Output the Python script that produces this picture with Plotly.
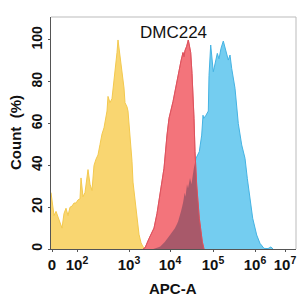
import numpy as np
import plotly.graph_objects as go

# display channel (0-245 on biexponential display) and % of max count
yellow_x = [0, 1, 3, 5, 7, 9, 11, 13, 15, 17, 19, 21, 23, 25, 27, 29, 30, 32, 34, 37, 39, 41, 43, 45, 47, 49,
            51, 53, 55, 56, 57, 59, 61, 63, 64, 66, 67, 69, 71, 73, 74, 76, 77, 79, 81, 82, 84, 86, 88, 90,
            92, 94, 97, 100, 103]
yellow_y = [27, 23, 16, 18, 15, 12, 10, 17, 19.5, 16, 20, 20.5, 22, 22, 23.5, 24, 34, 25, 27, 38, 31, 28, 40, 43,
            45, 50, 55, 58, 64, 66, 73, 70, 72, 80, 86, 94, 100, 92, 87, 77, 70, 68, 66, 55, 42, 32, 24, 14, 7,
            3, 1, 0.5, 0.3, 0.6, 0]

red_x = [92, 94, 98, 103, 106, 108, 111, 113, 116, 118, 122, 125, 128, 130, 132, 133, 134, 135.7, 137.3,
         138.5, 139.7, 141, 141.7, 143, 144, 145.7, 148.3, 151.3, 153]
red_y = [0, 0.5, 5, 10, 17, 22.6, 31, 38.6, 54.5, 62.5, 70.5, 78, 86.5, 90, 94, 92, 95, 97, 100,
         96, 94, 84, 78.5, 62.5, 46.6, 30.6, 14.7, 3.5, 0]

blue_x = [102.3, 109, 114, 119, 124, 127, 130, 132, 133.7, 134.5, 136, 137, 139, 140.5, 142, 143, 145,
          148.3, 150.7, 152, 152.7, 155, 157.3, 158, 159.7, 162.3, 164, 166.3, 168, 170, 172.3, 175,
          177.3, 179, 180.7, 184, 187.3, 190.7, 194, 196.3, 198.3, 201.7, 205.7, 209, 213, 217, 220, 222]
blue_y = [0, 1.1, 3.5, 6.7, 10, 13, 18, 22, 27, 25, 31, 29, 34, 31, 36, 39, 43.4,
          46.6, 54.5, 64, 62.5, 64, 66, 83, 97.6, 84.8, 88, 93.6, 91, 96, 99.5, 94.4,
          90.4, 92.8, 86.4, 76.9, 60, 49.8, 43.4, 33.8, 25.8, 14.7, 6.7, 2.7, 0.3, 0.2, 1, 0]

tick_pos = [1, 26, 78, 119, 162, 204, 234]
tick_text = ["<b>0</b>", "<b>10<sup>2</sup></b>", "<b>10<sup>3</sup></b>", "<b>10<sup>4</sup></b>",
             "<b>10<sup>5</sup></b>", "<b>10<sup>6</sup></b>", "<b>10<sup>7</sup></b>"]
y_ticks = [0, 20, 40, 60, 80, 100]
y_text = ["<b>%d</b>" % v for v in y_ticks]

# overlap of red (front) and blue (behind)
grid = np.arange(100, 155.01, 0.25)
ov = np.minimum(np.interp(grid, red_x, red_y, left=0, right=0),
                np.interp(grid, blue_x, blue_y, left=0, right=0))

fig = go.Figure()
fig.add_trace(go.Scatter(x=yellow_x, y=yellow_y, fill="tozeroy", mode="lines",
                         line=dict(color="#F3C94E", width=1), fillcolor="#F9D671"))
fig.add_trace(go.Scatter(x=blue_x, y=blue_y, fill="tozeroy", mode="lines",
                         line=dict(color="#45B3E3", width=1), fillcolor="#74CDF0"))
fig.add_trace(go.Scatter(x=red_x, y=red_y, fill="tozeroy", mode="lines",
                         line=dict(color="#EA5A64", width=1), fillcolor="#F3747B"))
fig.add_trace(go.Scatter(x=grid, y=ov, fill="tozeroy", mode="none", fillcolor="#A8596A"))
fig.add_trace(go.Scatter(x=red_x, y=red_y, mode="lines", line=dict(color="#D9505C", width=0.8)))

xf = dict(family="Liberation Sans, Arial", size=15, color="#111")
yf = dict(family="Liberation Sans, Arial", size=14, color="#111")
fig.update_layout(
    width=300, height=300, margin=dict(l=51, r=4, t=17, b=51),
    paper_bgcolor="white", plot_bgcolor="white", showlegend=False,
    xaxis=dict(range=[0, 245], tickvals=tick_pos, ticktext=tick_text, tickfont=xf,
               showgrid=False, zeroline=False, showline=True, linecolor="#555", linewidth=1,
               ticks="outside", ticklen=2, tickcolor="#555"),
    yaxis=dict(range=[0, 111], tickvals=y_ticks, ticktext=y_text, tickangle=-90, tickfont=yf,
               showgrid=False, zeroline=False, showline=True, linecolor="#555", linewidth=1,
               ticks="outside", ticklen=2, tickcolor="#555"),
    annotations=[
        dict(text="DMC224", xref="paper", yref="paper", x=0.5, y=(249 - 32) / 232,
             showarrow=False, xanchor="center", yanchor="middle",
             font=dict(family="Liberation Sans, Arial", size=17, color="#111")),
        dict(text="<b>APC-A</b>", xref="paper", yref="paper", x=(173 - 51) / 245, y=-(288 - 249) / 232,
             showarrow=False, xanchor="center", yanchor="middle",
             font=dict(family="Liberation Sans, Arial", size=15, color="#111")),
        dict(text="<b>Count  (%)</b>", xref="paper", yref="paper", x=-(51 - 15) / 245, y=(249 - 133) / 232,
             showarrow=False, xanchor="center", yanchor="middle", textangle=-90,
             font=dict(family="Liberation Sans, Arial", size=15, color="#111")),
    ],
    shapes=[
        dict(type="line", xref="paper", yref="paper", x0=0, x1=1, y0=1, y1=1,
             line=dict(color="#bbb", width=1)),
        dict(type="line", xref="paper", yref="paper", x0=1, x1=1, y0=0, y1=1,
             line=dict(color="#bbb", width=1)),
    ],
)
fig.write_html("out.html")
